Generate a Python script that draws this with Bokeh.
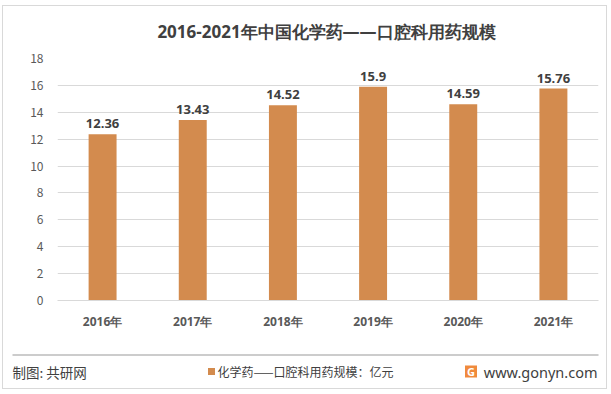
from bokeh.plotting import figure
from bokeh.layouts import column
from bokeh.models import ColumnDataSource, Range1d
from bokeh.core.properties import value
from bokeh.embed import file_html
from bokeh.resources import INLINE

years = ["2016年", "2017年", "2018年", "2019年", "2020年", "2021年"]
values = [12.36, 13.43, 14.52, 15.9, 14.59, 15.76]
value_labels = ["12.36", "13.43", "14.52", "15.9", "14.59", "15.76"]
y_ticks = [0, 2, 4, 6, 8, 10, 12, 14, 16, 18]
series_name = "化学药——口腔科用药规模：亿元"
title_text = "2016-2021年中国化学药——口腔科用药规模"
source_text = "制图: 共研网"
site_text = "www.gonyn.com"

FONT = "Noto Sans CJK SC"
BOLD = "Open Sans"
BAR = "#D38B4E"
TXT = "#404040"

W = 603


def panel_fig(h):
    fig = figure(width=W, height=h, x_range=Range1d(0, W), y_range=Range1d(0, h),
                 output_backend="svg", toolbar_location=None,
                 x_axis_location=None, y_axis_location=None,
                 min_border=0, min_border_left=0, min_border_right=0,
                 min_border_top=0, min_border_bottom=0)
    fig.frame_align = False
    fig.grid.visible = False
    fig.outline_line_color = None
    fig.background_fill_color = "white"
    fig.border_fill_color = "white"
    return fig


# header with title
HH = 42
hdr = panel_fig(HH)
hdr.text(x=[323], y=[17], text=[title_text], text_font=value(BOLD), text_font_size="17px",
         text_font_style="bold", text_color=TXT, text_align="center", text_baseline="middle")

# main chart
src = ColumnDataSource(dict(x=years, y=values, lab=value_labels))
p = figure(x_range=years, y_range=(0, 18), width=W, height=304,
           output_backend="svg", toolbar_location=None,
           min_border_left=54, min_border_right=8, min_border_top=10, min_border_bottom=52)
p.frame_align = False
p.outline_line_color = None
p.background_fill_color = "white"
p.border_fill_color = "white"

p.vbar(x="x", top="y", width=0.31, source=src, fill_color=BAR, line_color=None)

p.yaxis.ticker = y_ticks
p.yaxis.axis_line_color = None
p.yaxis.major_tick_line_color = None
p.yaxis.minor_tick_line_color = None
p.yaxis.major_label_text_font = FONT
p.yaxis.major_label_text_font_size = "12px"
p.yaxis.major_label_text_color = "#595959"
p.yaxis.major_label_standoff = 8

p.xaxis.axis_line_color = "#d9d9d9"
p.xaxis.major_tick_line_color = None
p.xaxis.minor_tick_line_color = None
p.xaxis.major_label_text_font = BOLD
p.xaxis.major_label_text_font_size = "12px"
p.xaxis.major_label_text_font_style = "bold"
p.xaxis.major_label_text_color = "#595959"
p.xaxis.major_label_standoff = 6

p.xgrid.grid_line_color = None
p.ygrid.grid_line_color = "#d9d9d9"

p.text(x="x", y="y", text="lab", source=src, text_align="center",
       text_baseline="bottom", y_offset=-6, text_font=value(BOLD),
       text_font_size="13px", text_font_style="bold", text_color=TXT)

# footer
FH = 36
f = panel_fig(FH)
f.segment(x0=[9], y0=[33.5], x1=[595], y1=[33.5], line_color="#cccccc", line_width=2)
f.text(x=[9], y=[17], text=[source_text], text_font=value(FONT), text_font_size="13.5px",
       text_color=TXT, text_align="left", text_baseline="middle")
f.text(x=[594], y=[17], text=[site_text], text_font=value("Noto Sans"), text_font_size="14.5px",
       text_color=TXT, text_align="right", text_baseline="middle")
f.rect(x=[467.5], y=[17], width=12, height=12, fill_color="#F08A3C", line_color=None)
f.text(x=[467.5], y=[17], text=["G"], text_font=value("Open Sans"), text_font_size="11px",
       text_font_style="bold", text_color="white", text_align="center", text_baseline="middle")

# legend (swatch + label)
f.rect(x=[208], y=[17], width=7, height=7, fill_color=BAR, line_color=None)
f.text(x=[214], y=[17], text=[series_name], text_font=value(FONT), text_font_size="12px",
       text_color=TXT, text_align="left", text_baseline="middle")

layout = column(hdr, p, f, spacing=0,
                styles={"margin-left": "2px", "margin-top": "5px", "border": "1px solid #d9d9d9"})

open("out.html", "w").write(file_html(layout, INLINE))
